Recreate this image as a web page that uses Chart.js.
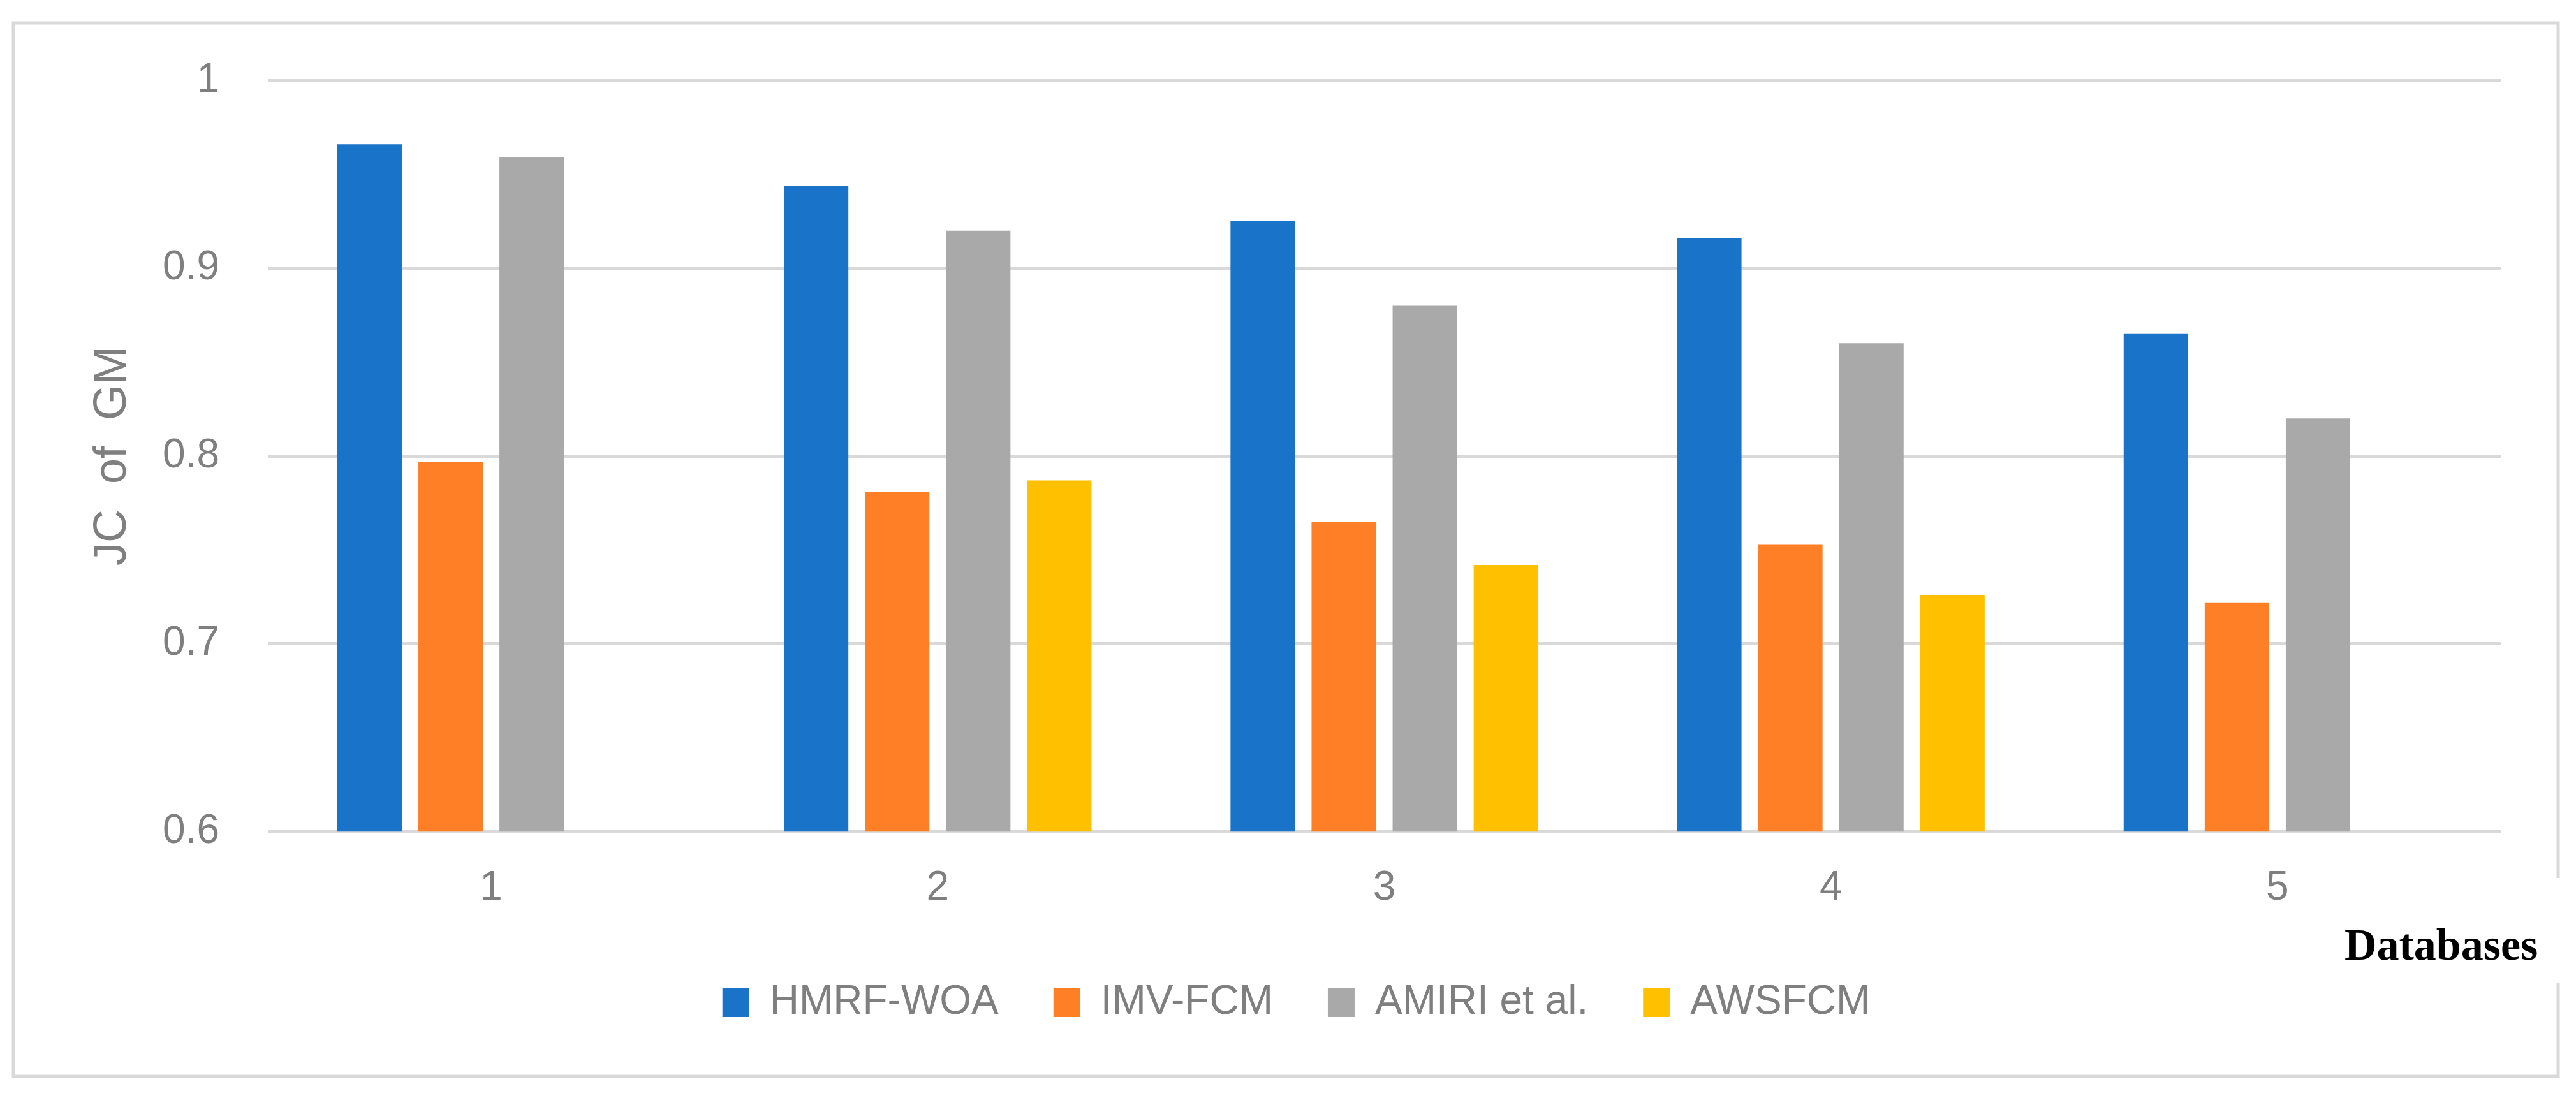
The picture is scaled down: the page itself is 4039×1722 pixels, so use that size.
<!DOCTYPE html>
<html>
<head>
<meta charset="utf-8">
<script src="https://cdn.jsdelivr.net/npm/chart.js@4.4.0/dist/chart.umd.min.js"></script>
<style>
  html, body { margin: 0; padding: 0; background: #fff; }
  #wrap { width: 4039px; height: 1722px; }
</style>
</head>
<body>
<div id="wrap"><canvas id="chart" width="4039" height="1722"></canvas></div>
<script>
// values
const categories = ['1', '2', '3', '4', '5'];
const hmrfWoa = [0.966, 0.944, 0.925, 0.916, 0.865];
const imvFcm = [0.797, 0.781, 0.765, 0.753, 0.722];
const amiri = [0.959, 0.920, 0.880, 0.860, 0.820];
const awsfcm = [null, 0.787, 0.742, 0.726, null];
const seriesNames = ['HMRF-WOA', 'IMV-FCM', 'AMIRI et al.', 'AWSFCM'];
const seriesColors = ['#1873c9', '#ff7f27', '#a9a9a9', '#ffc000'];
const yTicks = [0.6, 0.7, 0.8, 0.9, 1];
const yTitle = 'JC  of  GM';
const xTitle = 'Databases';

const textGray = '#7f7f7f';
const lineGray = '#d9d9d9';

// outer frame, with a gap on the right where the x title sits
const framePlugin = {
  id: 'frame',
  beforeDraw(chart) {
    const ctx = chart.ctx;
    ctx.save();
    ctx.fillStyle = '#fff';
    ctx.fillRect(0, 0, chart.width, chart.height);
    ctx.strokeStyle = lineGray;
    ctx.lineWidth = 5;
    ctx.beginPath();
    ctx.moveTo(4011, 1377);
    ctx.lineTo(4011, 36);
    ctx.lineTo(21, 36);
    ctx.lineTo(21, 1688);
    ctx.lineTo(4011, 1688);
    ctx.lineTo(4011, 1541);
    ctx.stroke();
    ctx.restore();
  },
  afterDraw(chart) {
    const ctx = chart.ctx;
    ctx.save();
    ctx.fillStyle = '#000';
    ctx.font = 'bold 70px "Liberation Serif"';
    ctx.textAlign = 'left';
    ctx.textBaseline = 'alphabetic';
    ctx.fillText(xTitle, 3676, 1505);
    ctx.restore();
  }
};

const makeSet = (i, values) => ({
  label: seriesNames[i],
  data: values,
  backgroundColor: seriesColors[i],
  borderWidth: 0,
  categoryPercentage: 0.726,
  barPercentage: 0.795
});

new Chart(document.getElementById('chart').getContext('2d'), {
  type: 'bar',
  data: {
    labels: categories,
    datasets: [
      makeSet(0, hmrfWoa),
      makeSet(1, imvFcm),
      makeSet(2, amiri),
      makeSet(3, awsfcm)
    ]
  },
  options: {
    responsive: false,
    devicePixelRatio: 1,
    animation: false,
    layout: { padding: { left: 26, right: 0, top: 126, bottom: 108 } },
    plugins: {
      legend: {
        position: 'bottom',
        labels: {
          color: textGray,
          font: { family: '"Liberation Sans"', size: 64 },
          boxWidth: 42,
          boxHeight: 46,
          padding: 86
        }
      },
      tooltip: { enabled: false }
    },
    scales: {
      x: {
        grid: { display: false },
        border: { display: false },
        afterFit: s => { s.height = s.height - 21; },
        ticks: {
          color: textGray,
          font: { family: '"Liberation Sans"', size: 64 },
          padding: 43
        }
      },
      y: {
        min: 0.6,
        max: 1,
        afterBuildTicks: s => { s.ticks = yTicks.map(v => ({ value: v })); },
        afterFit: s => { s.width = 394; },
        border: { display: false },
        grid: { color: lineGray, lineWidth: 5, drawTicks: false },
        ticks: {
          color: textGray,
          font: { family: '"Liberation Sans"', size: 64 },
          padding: 76,
          callback: v => String(+v.toFixed(1))
        },
        title: {
          display: true,
          text: yTitle,
          color: textGray,
          font: { family: '"Liberation Sans"', size: 72 },
          padding: { top: 108, bottom: 0 }
        }
      },
      // empty right-hand axis so the plot ends where the reference's does
      yRight: {
        position: 'right',
        display: true,
        afterFit: s => { s.width = 118; },
        grid: { display: false },
        border: { display: false },
        ticks: { display: false }
      }
    }
  },
  plugins: [framePlugin]
});
</script>
</body>
</html>
